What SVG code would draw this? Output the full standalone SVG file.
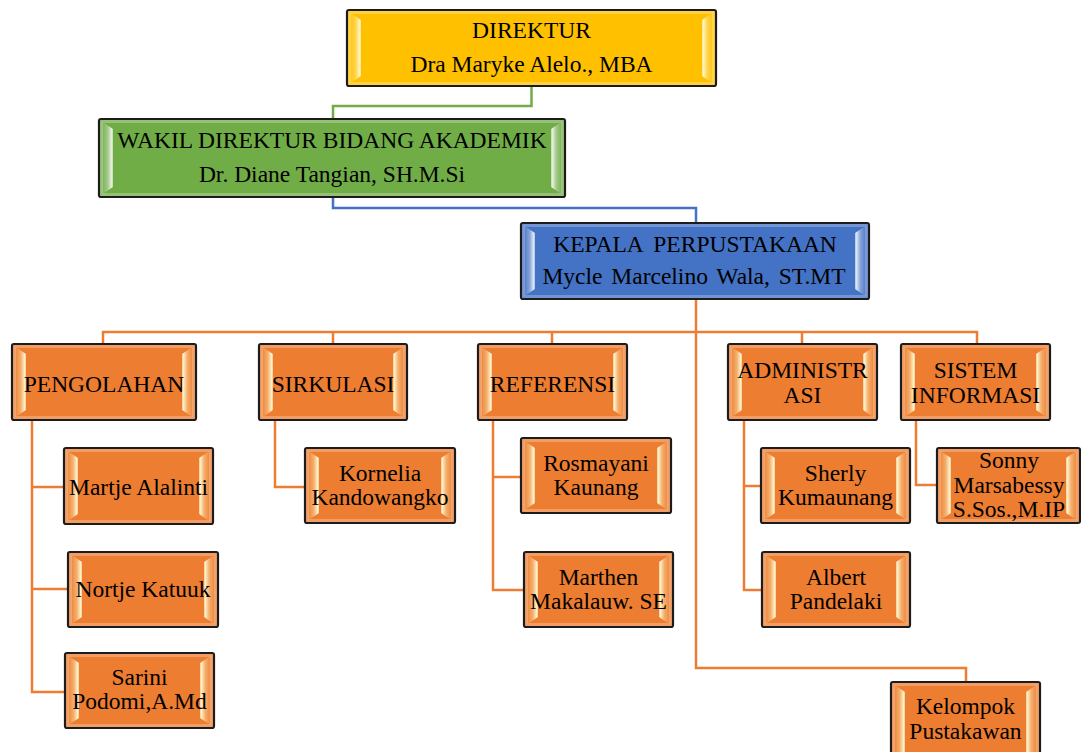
<svg xmlns="http://www.w3.org/2000/svg" width="1081" height="752" viewBox="0 0 1081 752">
<style>
.bx{stroke:#1c1c1c;stroke-width:2.2}
.y{fill:#ffc000}.g{fill:#70ad47}.b{fill:#4472c4}.o{fill:#ed7d31}
.fr{fill:none;stroke:#fff;stroke-opacity:.25;stroke-width:3}
.wl{fill:url(#wL)}.wr{fill:url(#wR)}.cl{fill:url(#cL)}.cr{fill:url(#cR)}
text{font-family:"Liberation Serif","Times New Roman",serif;font-size:23.5px;fill:#000;text-anchor:middle}
.c{fill:none;stroke-width:2.5}
.cg{stroke:#70ad47}.cb{stroke:#4472c4}.co{stroke:#ed7d31}
</style>
<defs>
<linearGradient id="wL" x1="0" y1="0" x2="1" y2="0">
<stop offset="0" stop-color="#fff4c0" stop-opacity="0"/><stop offset="0.55" stop-color="#fff4c0" stop-opacity="0.4"/><stop offset="0.9" stop-color="#fffbd8" stop-opacity="0.95"/><stop offset="1" stop-color="#fff4c0" stop-opacity="0.6"/>
</linearGradient>
<linearGradient id="wR" x1="1" y1="0" x2="0" y2="0">
<stop offset="0" stop-color="#fff4c0" stop-opacity="0"/><stop offset="0.55" stop-color="#fff4c0" stop-opacity="0.4"/><stop offset="0.9" stop-color="#fffbd8" stop-opacity="0.95"/><stop offset="1" stop-color="#fff4c0" stop-opacity="0.6"/>
</linearGradient>
<linearGradient id="cL" x1="0" y1="0" x2="1" y2="0">
<stop offset="0" stop-color="#ffffff" stop-opacity="0"/><stop offset="0.55" stop-color="#ffffff" stop-opacity="0.35"/><stop offset="0.9" stop-color="#ffffff" stop-opacity="0.85"/><stop offset="1" stop-color="#ffffff" stop-opacity="0.5"/>
</linearGradient>
<linearGradient id="cR" x1="1" y1="0" x2="0" y2="0">
<stop offset="0" stop-color="#ffffff" stop-opacity="0"/><stop offset="0.55" stop-color="#ffffff" stop-opacity="0.35"/><stop offset="0.9" stop-color="#ffffff" stop-opacity="0.85"/><stop offset="1" stop-color="#ffffff" stop-opacity="0.5"/>
</linearGradient>
</defs>

<g id="connectors">
<path class="c cg" d="M531.5 86 V106 H333 V119"/>
<path class="c cb" d="M333 197 V208 H696 V223"/>
<path class="c co" d="M696 299 V668 H966 V682"/>
<path class="c co" d="M103 344 V332 H977 V344"/>
<path class="c co" d="M333 332 V344 M552 332 V344 M802 332 V344"/>
<path class="c co" d="M32 420 V692 H65 M32 487 H64 M32 589 H68"/>
<path class="c co" d="M275 420 V487 H305"/>
<path class="c co" d="M493 420 V590 H524 M493 477 H521"/>
<path class="c co" d="M744 420 V590 H762 M744 486 H761"/>
<path class="c co" d="M916 420 V485 H937"/>
</g>

<g id="direktur">
<rect class="bx y" x="347" y="10" width="369" height="76" rx="2"/>
<rect class="fr" x="349.5" y="12.5" width="364" height="71"/>
<path class="wl" d="M349 12 L361 20 V76 L349 84Z"/><path class="wr" d="M714 12 L702 20 V76 L714 84Z"/>
<text x="531.5" y="38">DIREKTUR</text>
<text x="531.5" y="72">Dra Maryke Alelo., MBA</text>
</g>

<g id="wakil">
<rect class="bx g" x="99" y="119" width="466" height="78" rx="2"/>
<rect class="fr" x="101.5" y="121.5" width="461" height="73"/>
<path class="cl" d="M101 121 L113 129 V187 L101 195Z"/><path class="cr" d="M563 121 L551 129 V187 L563 195Z"/>
<text x="332" y="148">WAKIL DIREKTUR BIDANG AKADEMIK</text>
<text x="332" y="182">Dr. Diane Tangian, SH.M.Si</text>
</g>

<g id="kepala">
<rect class="bx b" x="521" y="223" width="348" height="76" rx="2"/>
<rect class="fr" x="523.5" y="225.5" width="343" height="71"/>
<path class="cl" d="M523 225 L535 233 V289 L523 297Z"/><path class="cr" d="M867 225 L855 233 V289 L867 297Z"/>
<text x="695" y="252" word-spacing="5">KEPALA PERPUSTAKAAN</text>
<text x="694" y="284" word-spacing="3">Mycle Marcelino Wala, ST.MT</text>
</g>

<g id="pengolahan">
<rect class="bx o" x="12" y="344" width="184" height="76" rx="2"/>
<rect class="fr" x="14.5" y="346.5" width="179" height="71"/>
<path class="wl" d="M14 346 L26 354 V410 L14 418Z"/><path class="wr" d="M194 346 L182 354 V410 L194 418Z"/>
<text x="104" y="392">PENGOLAHAN</text>
</g>

<g id="sirkulasi">
<rect class="bx o" x="259" y="344" width="148" height="76" rx="2"/>
<rect class="fr" x="261.5" y="346.5" width="143" height="71"/>
<path class="wl" d="M261 346 L273 354 V410 L261 418Z"/><path class="wr" d="M405 346 L393 354 V410 L405 418Z"/>
<text x="333" y="392">SIRKULASI</text>
</g>

<g id="referensi">
<rect class="bx o" x="478" y="344" width="149" height="76" rx="2"/>
<rect class="fr" x="480.5" y="346.5" width="144" height="71"/>
<path class="wl" d="M480 346 L492 354 V410 L480 418Z"/><path class="wr" d="M625 346 L613 354 V410 L625 418Z"/>
<text x="552.5" y="392">REFERENSI</text>
</g>

<g id="administrasi">
<rect class="bx o" x="728" y="344" width="149" height="76" rx="2"/>
<rect class="fr" x="730.5" y="346.5" width="144" height="71"/>
<path class="wl" d="M730 346 L742 354 V410 L730 418Z"/><path class="wr" d="M875 346 L863 354 V410 L875 418Z"/>
<text x="802.5" y="378">ADMINISTR</text>
<text x="802.5" y="403">ASI</text>
</g>

<g id="sistem-informasi">
<rect class="bx o" x="901" y="344" width="149" height="76" rx="2"/>
<rect class="fr" x="903.5" y="346.5" width="144" height="71"/>
<path class="wl" d="M903 346 L915 354 V410 L903 418Z"/><path class="wr" d="M1048 346 L1036 354 V410 L1048 418Z"/>
<text x="975.5" y="378">SISTEM</text>
<text x="975.5" y="403">INFORMASI</text>
</g>

<g id="martje">
<rect class="bx o" x="64" y="448" width="149" height="76" rx="2"/>
<rect class="fr" x="66.5" y="450.5" width="144" height="71"/>
<path class="wl" d="M66 450 L78 458 V514 L66 522Z"/><path class="wr" d="M211 450 L199 458 V514 L211 522Z"/>
<text x="138.5" y="495">Martje Alalinti</text>
</g>

<g id="nortje">
<rect class="bx o" x="68" y="552" width="150" height="75" rx="2"/>
<rect class="fr" x="70.5" y="554.5" width="145" height="70"/>
<path class="wl" d="M70 554 L82 562 V617 L70 625Z"/><path class="wr" d="M216 554 L204 562 V617 L216 625Z"/>
<text x="143" y="597">Nortje Katuuk</text>
</g>

<g id="sarini">
<rect class="bx o" x="65" y="653" width="149" height="75" rx="2"/>
<rect class="fr" x="67.5" y="655.5" width="144" height="70"/>
<path class="wl" d="M67 655 L79 663 V718 L67 726Z"/><path class="wr" d="M212 655 L200 663 V718 L212 726Z"/>
<text x="139.5" y="685">Sarini</text>
<text x="139.5" y="709">Podomi,A.Md</text>
</g>

<g id="kornelia">
<rect class="bx o" x="305" y="448" width="150" height="75" rx="2"/>
<rect class="fr" x="307.5" y="450.5" width="145" height="70"/>
<path class="wl" d="M307 450 L319 458 V513 L307 521Z"/><path class="wr" d="M453 450 L441 458 V513 L453 521Z"/>
<text x="380" y="481">Kornelia</text>
<text x="380" y="505">Kandowangko</text>
</g>

<g id="rosmayani">
<rect class="bx o" x="521" y="438" width="150" height="75" rx="2"/>
<rect class="fr" x="523.5" y="440.5" width="145" height="70"/>
<path class="wl" d="M523 440 L535 448 V503 L523 511Z"/><path class="wr" d="M669 440 L657 448 V503 L669 511Z"/>
<text x="596" y="471">Rosmayani</text>
<text x="596" y="495">Kaunang</text>
</g>

<g id="marthen">
<rect class="bx o" x="524" y="552" width="149" height="75" rx="2"/>
<rect class="fr" x="526.5" y="554.5" width="144" height="70"/>
<path class="wl" d="M526 554 L538 562 V617 L526 625Z"/><path class="wr" d="M671 554 L659 562 V617 L671 625Z"/>
<text x="598.5" y="585">Marthen</text>
<text x="598.5" y="609">Makalauw. SE</text>
</g>

<g id="sherly">
<rect class="bx o" x="761" y="448" width="149" height="75" rx="2"/>
<rect class="fr" x="763.5" y="450.5" width="144" height="70"/>
<path class="wl" d="M763 450 L775 458 V513 L763 521Z"/><path class="wr" d="M908 450 L896 458 V513 L908 521Z"/>
<text x="835.5" y="481">Sherly</text>
<text x="835.5" y="505">Kumaunang</text>
</g>

<g id="albert">
<rect class="bx o" x="762" y="552" width="148" height="75" rx="2"/>
<rect class="fr" x="764.5" y="554.5" width="143" height="70"/>
<path class="wl" d="M764 554 L776 562 V617 L764 625Z"/><path class="wr" d="M908 554 L896 562 V617 L908 625Z"/>
<text x="836" y="585">Albert</text>
<text x="836" y="609">Pandelaki</text>
</g>

<g id="sonny">
<rect class="bx o" x="937" y="448" width="143" height="75" rx="2"/>
<rect class="fr" x="939.5" y="450.5" width="138" height="70"/>
<path class="wl" d="M939 450 L951 458 V513 L939 521Z"/><path class="wr" d="M1078 450 L1066 458 V513 L1078 521Z"/>
<text x="1009" y="468">Sonny</text>
<text x="1009" y="493">Marsabessy</text>
<text x="1009" y="517">S.Sos.,M.IP</text>
</g>

<g id="kelompok">
<rect class="bx o" x="891" y="682" width="149" height="80" rx="2"/>
<rect class="fr" x="893.5" y="684.5" width="144" height="75"/>
<path class="wl" d="M893 684 L905 692 V752 L893 760Z"/><path class="wr" d="M1038 684 L1026 692 V752 L1038 760Z"/>
<text x="965.5" y="714">Kelompok</text>
<text x="965.5" y="739">Pustakawan</text>
</g>
</svg>
